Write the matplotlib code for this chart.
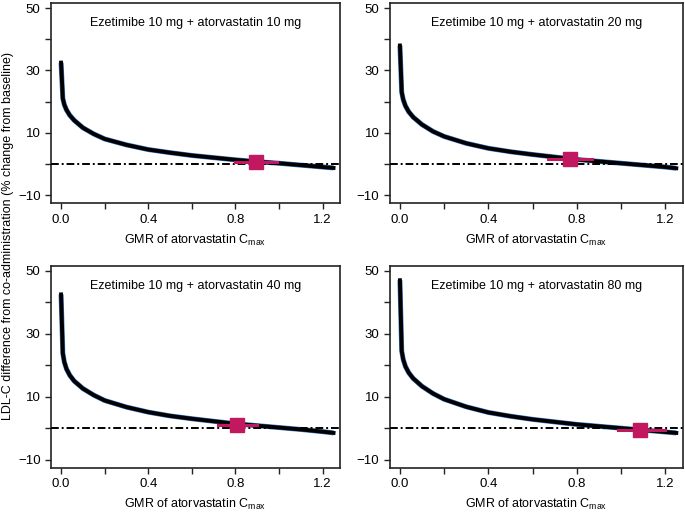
import matplotlib
matplotlib.use("Agg")
import matplotlib.pyplot as plt
from matplotlib.ticker import MultipleLocator

plt.rcParams['font.family'] = ['Liberation Sans', 'DejaVu Sans']
plt.rcParams['mathtext.fontset'] = 'custom'
plt.rcParams['mathtext.rm'] = 'Liberation Sans'

# GMR of atorvastatin Cmax (shared x grid of the read-off curves)
gmr = [0, 0.008, 0.015, 0.025, 0.04, 0.06, 0.1, 0.15, 0.2, 0.3, 0.4, 0.5,
       0.6, 0.7, 0.8, 0.9, 1.0, 1.1, 1.2, 1.25]

titles = ["Ezetimibe 10 mg + atorvastatin 10 mg",
          "Ezetimibe 10 mg + atorvastatin 20 mg",
          "Ezetimibe 10 mg + atorvastatin 40 mg",
          "Ezetimibe 10 mg + atorvastatin 80 mg"]

ldl_10 = [32.5, 21.0, 19.0, 17.3, 15.6, 14.0, 11.6, 9.6, 8.0, 6.1, 4.6, 3.6,
          2.7, 2.0, 1.3, 0.7, 0.2, -0.4, -1.0, -1.3]
ldl_20 = [38.0, 23.0, 20.6, 18.6, 16.7, 15.0, 12.6, 10.4, 8.8, 6.6, 5.0, 3.9,
          3.0, 2.2, 1.4, 0.8, 0.2, -0.4, -1.0, -1.4]
ldl_40 = [42.5, 23.8, 21.0, 18.8, 16.8, 15.0, 12.6, 10.5, 8.8, 6.7, 5.1, 3.9,
          3.0, 2.2, 1.4, 0.8, 0.2, -0.4, -1.1, -1.5]
ldl_80 = [47.0, 24.5, 21.8, 19.6, 17.6, 15.8, 13.3, 11.0, 9.2, 6.8, 5.0, 3.8,
          2.8, 2.0, 1.2, 0.6, 0.0, -0.6, -1.2, -1.5]

# observed point estimate with its interval on the GMR axis
obs_gmr = [0.895, 0.77, 0.805, 1.085]
obs_low = [0.80, 0.67, 0.72, 0.985]
obs_high = [0.99, 0.87, 0.90, 1.20]
obs_ldl = [0.5, 1.7, 1.0, -0.7]

curves = [ldl_10, ldl_20, ldl_40, ldl_80]
PINK = "#C2185F"
BAND = "#3D78C8"

fig = plt.figure(figsize=(6.85, 5.13), dpi=100)
boxes = [(0.0745, 0.604, 0.422, 0.390), (0.569, 0.604, 0.428, 0.390),
         (0.0745, 0.088, 0.422, 0.394), (0.569, 0.088, 0.428, 0.394)]

for i, box in enumerate(boxes):
    ax = fig.add_axes(box)
    ax.plot(gmr, curves[i], color=BAND, lw=3.6, solid_capstyle='butt', zorder=2)
    ax.plot(gmr, curves[i], color='black', lw=2.8, solid_joinstyle='round', zorder=3)
    ax.axhline(0, color='black', lw=1.4, linestyle=(0, (4, 1.5, 1, 1.5)), zorder=4)
    ax.plot([obs_low[i], obs_high[i]], [obs_ldl[i], obs_ldl[i]], color=PINK, lw=2.2, zorder=5)
    ax.plot(obs_gmr[i], obs_ldl[i], marker='s', color=PINK, markersize=9.5, zorder=6)

    ax.set_xlim(-0.046, 1.28)
    ax.set_ylim(-12.6, 51.6)
    ax.xaxis.set_minor_locator(MultipleLocator(0.2))
    ax.yaxis.set_minor_locator(MultipleLocator(10))
    ax.set_xticks([0, 0.4, 0.8, 1.2])
    ax.set_xticklabels(["0.0", "0.4", "0.8", "1.2"])
    ax.set_yticks([-10, 10, 30, 50])
    ax.tick_params(which='both', direction='out', length=4, width=1, labelsize=9.5, color='#222222')
    for s in ax.spines.values():
        s.set_linewidth(1.2)
        s.set_color('#222222')
    ax.set_xlabel(r"GMR of atorvastatin C$_{\mathregular{max}}$", fontsize=9, labelpad=5)
    ax.text(0.5, 0.9, titles[i], transform=ax.transAxes, ha='center', va='center', fontsize=9)

fig.text(0.012, 0.54, "LDL-C difference from co-administration (% change from baseline)",
         rotation=90, ha='center', va='center', fontsize=9)

fig.savefig("out.png", dpi=100)
